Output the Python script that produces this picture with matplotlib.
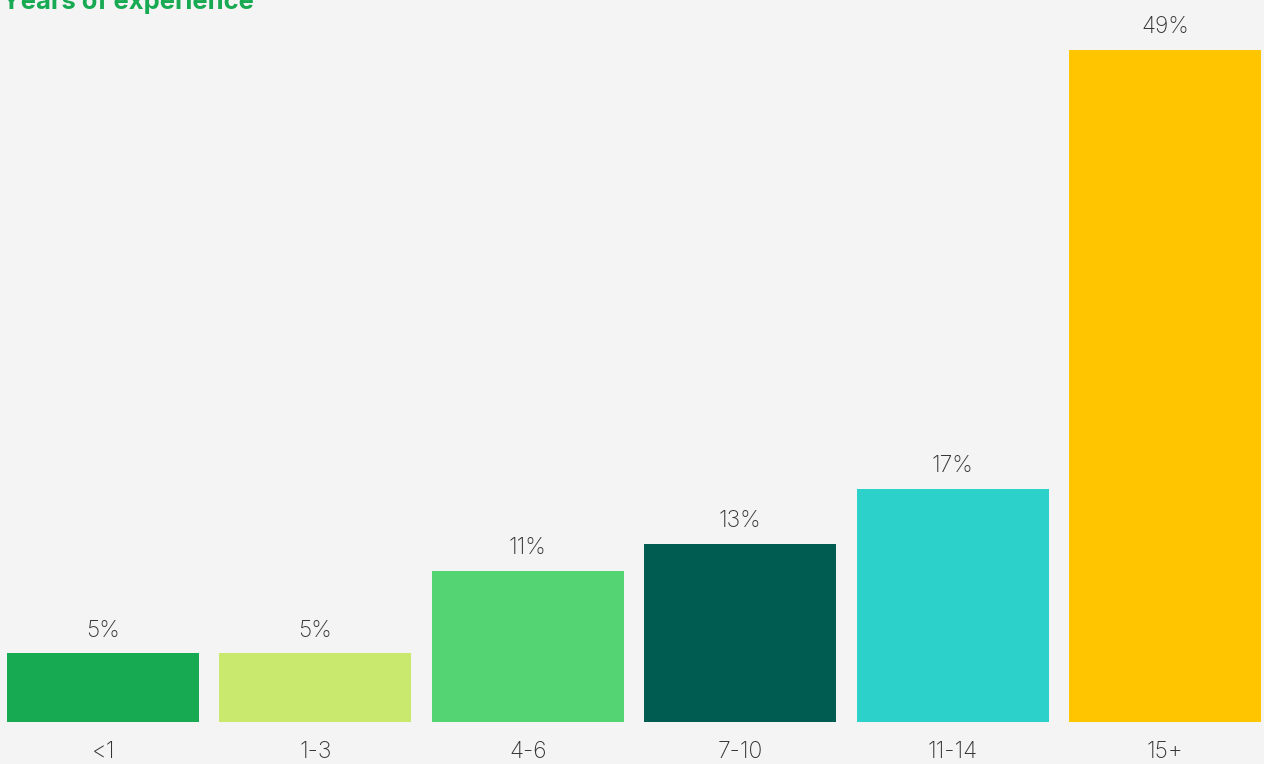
import matplotlib.pyplot as plt
from matplotlib import transforms

categories = ['<1', '1-3', '4-6', '7-10', '11-14', '15+']
shares = [5, 5, 11, 13, 17, 49]
colors = ['#18aa52', '#c8e86e', '#55d473', '#005b50', '#2cd2c9', '#ffc600']

plt.rcParams['font.family'] = ['Inter', 'DejaVu Sans']
bg = '#f4f4f4'
text_color = '#333333'

fig = plt.figure(figsize=(12.64, 7.64), dpi=100, facecolor=bg)
ax = fig.add_axes([7 / 1264, 1 - 722 / 764, 1254 / 1264, 672 / 764])
ax.set_facecolor(bg)

width = 0.904
ax.bar(range(len(categories)), shares, width=width, color=colors, lw=0)
ax.set_xlim(-width / 2, len(categories) - 1 + width / 2)
ax.set_ylim(0, max(shares))

# Value labels above each bar
for i, v in enumerate(shares):
    ax.annotate(f'{v}%', (i, v), xytext=(0, 12), textcoords='offset points',
                ha='center', va='baseline', fontsize=16.5, fontweight='light',
                color=text_color)

# Category labels below the baseline
trans = transforms.blended_transform_factory(ax.transData, fig.transFigure)
for i, c in enumerate(categories):
    ax.text(i, 1 - 758 / 764, c, transform=trans, ha='center',
            va='baseline', fontsize=16.5, fontweight='light', color=text_color)

ax.set_xticks([])
ax.set_yticks([])
for s in ax.spines.values():
    s.set_visible(False)

fig.text(2 / 1264, 1 - 9 / 764, 'Years of experience', ha='left',
         va='baseline', fontsize=18.4, fontweight='bold', color='#18aa52')

fig.savefig('out.png', dpi=100, facecolor=bg)
